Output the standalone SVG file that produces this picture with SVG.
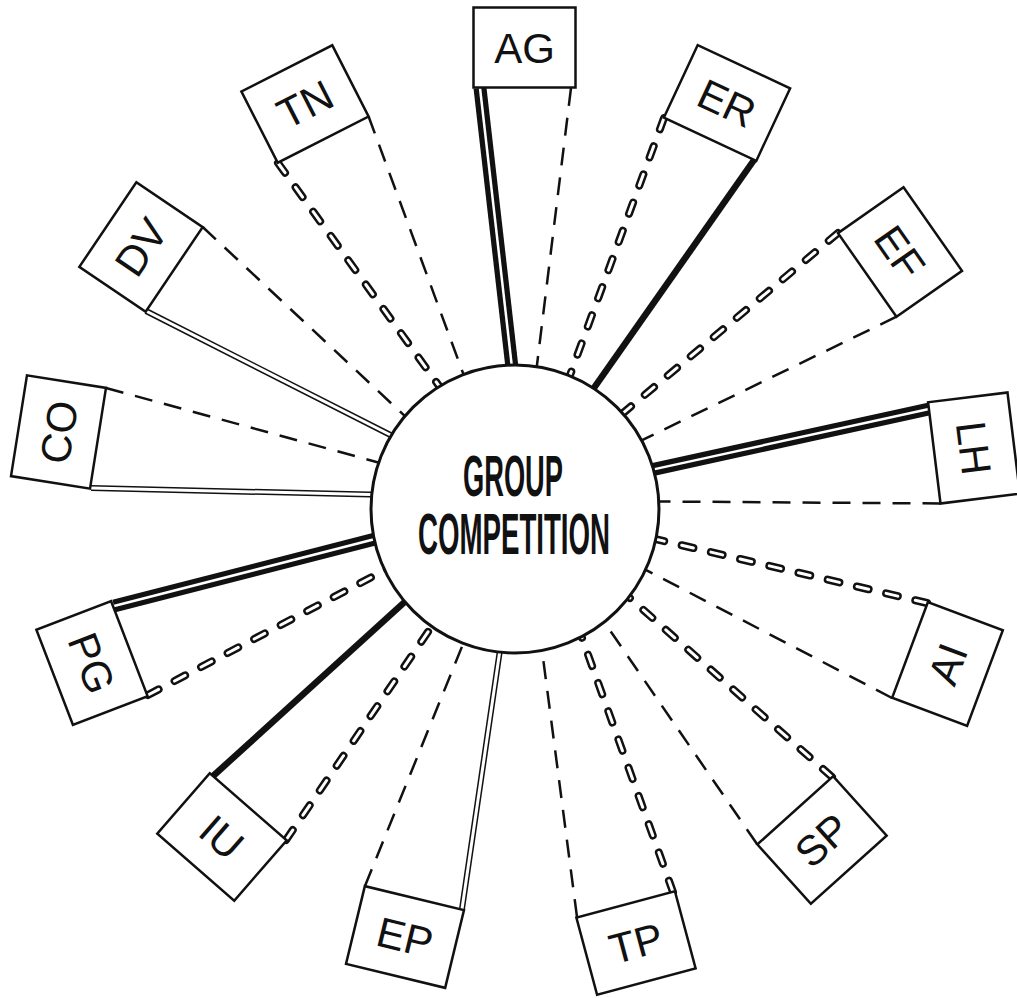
<svg xmlns="http://www.w3.org/2000/svg" width="1017" height="998" viewBox="0 0 1017 998">
  <style>
    .box rect { fill: #fff; stroke: #111; stroke-width: 2.5; }
    .box text { font-family: "Liberation Sans", Arial, sans-serif; font-size: 42px; text-anchor: middle; fill: #111; }
    .hub-text { font-family: "Liberation Sans", Arial, sans-serif; font-weight: bold; font-size: 57px; fill: #111; }
    path { fill: none; }
    .heavy-o { stroke: #111; stroke-width: 13; }
    .heavy-i { stroke: #fff; stroke-width: 2.5; }
    .thick { stroke: #111; stroke-width: 6.5; }
    .double-o { stroke: #111; stroke-width: 6; }
    .double-i { stroke: #fff; stroke-width: 3; }
    .chain-o { stroke: #111; stroke-width: 8; stroke-linecap: round; stroke-dasharray: 12 18; }
    .chain-i { stroke: #fff; stroke-width: 3; stroke-linecap: round; stroke-dasharray: 12 18; }
    .dash { stroke: #111; stroke-width: 2.5; stroke-dasharray: 18 12; }
  </style>
  <rect width="1017" height="998" fill="#fff"/>

  <g id="connectors">
    <!-- heavy banded lines -->
    <path class="heavy-o" d="M480,88 L512.6,373"/>
    <path class="heavy-i" d="M480,88 L512.6,373"/>
    <path class="heavy-o" d="M929,409 L645.6,471.1"/>
    <path class="heavy-i" d="M929,409 L645.6,471.1"/>
    <path class="heavy-o" d="M114,606 L382,537.3"/>
    <path class="heavy-i" d="M114,606 L382,537.3"/>

    <!-- thick solid lines -->
    <path class="thick" d="M754,160 L589.1,394.9"/>
    <path class="thick" d="M212,777 L410.8,596.4"/>

    <!-- double thin lines -->
    <path class="double-o" d="M91,488 L379.7,494.8"/>
    <path class="double-i" d="M91,488 L379.7,494.8"/>
    <path class="double-o" d="M146,311 L398.4,439"/>
    <path class="double-i" d="M146,311 L398.4,439"/>
    <path class="double-o" d="M462,909 L500.8,644.3"/>
    <path class="double-i" d="M462,909 L500.8,644.3"/>

    <!-- hollow chain dashes -->
    <g>
      <path class="chain-o" d="M664,118 L567,383.4"/>
      <path class="chain-i" d="M664,118 L567,383.4"/>
      <path class="chain-o" d="M838,233 L616.5,418.5"/>
      <path class="chain-i" d="M838,233 L616.5,418.5"/>
      <path class="chain-o" d="M927,603 L648,537.3"/>
      <path class="chain-i" d="M927,603 L648,537.3"/>
      <path class="chain-o" d="M832,777 L622.9,591.8"/>
      <path class="chain-i" d="M832,777 L622.9,591.8"/>
      <path class="chain-o" d="M673,892 L578.9,629.1"/>
      <path class="chain-i" d="M673,892 L578.9,629.1"/>
      <path class="chain-o" d="M286,840 L436.2,619.9"/>
      <path class="chain-i" d="M286,840 L436.2,619.9"/>
      <path class="chain-o" d="M148,695 L391.7,566.5"/>
      <path class="chain-i" d="M148,695 L391.7,566.5"/>
      <path class="chain-o" d="M278,163 L444.1,392.9"/>
      <path class="chain-i" d="M278,163 L444.1,392.9"/>
    </g>

    <!-- plain dashed lines -->
    <path class="dash" d="M571,88 L535.8,374.6"/>
    <path class="dash" d="M896.5,316.7 L634.4,443.9"/>
    <path class="dash" d="M940.5,503.5 L650.8,501.4"/>
    <path class="dash" d="M892,698 L638.5,566.1"/>
    <path class="dash" d="M757,844 L599.7,615.4"/>
    <path class="dash" d="M577,917 L541,642.5"/>
    <path class="dash" d="M365,886 L466.3,636"/>
    <path class="dash" d="M106,388 L386.4,464.7"/>
    <path class="dash" d="M202.7,227 L410.8,421.6"/>
    <path class="dash" d="M368.6,116.5 L466.3,382"/>
  </g>

  <g id="hub">
    <circle cx="515" cy="509" r="144" fill="#fff" stroke="#111" stroke-width="3"/>
    <text class="hub-text" x="463" y="496" textLength="100" lengthAdjust="spacingAndGlyphs">GROUP</text>
    <text class="hub-text" x="418" y="554" textLength="192" lengthAdjust="spacingAndGlyphs">COMPETITION</text>
  </g>

  <g id="node-AG" class="box" transform="translate(524.5,47.5)"><rect x="-51" y="-40" width="102" height="80"/><text y="15">AG</text></g>
  <g id="node-ER" class="box" transform="translate(727,103) rotate(25)"><rect x="-51" y="-40" width="102" height="80"/><text y="15">ER</text></g>
  <g id="node-EF" class="box" transform="translate(900,252) rotate(55)"><rect x="-51" y="-40" width="102" height="80"/><text y="15">EF</text></g>
  <g id="node-LH" class="box" transform="translate(974,448) rotate(83)"><rect x="-51" y="-40" width="102" height="80"/><text y="15">LH</text></g>
  <g id="node-AI" class="box" transform="translate(947.5,664) rotate(-69.5)"><rect x="-51" y="-40" width="102" height="80"/><text y="15">AI</text></g>
  <g id="node-SP" class="box" transform="translate(822,840) rotate(-42)"><rect x="-51" y="-40" width="102" height="80"/><text y="15">SP</text></g>
  <g id="node-TP" class="box" transform="translate(636,943) rotate(-15)"><rect x="-51" y="-40" width="102" height="80"/><text y="15">TP</text></g>
  <g id="node-EP" class="box" transform="translate(405,937) rotate(13.6)"><rect x="-51" y="-40" width="102" height="80"/><text y="15">EP</text></g>
  <g id="node-IU" class="box" transform="translate(222,837) rotate(41)"><rect x="-51" y="-40" width="102" height="80"/><text y="15">IU</text></g>
  <g id="node-PG" class="box" transform="translate(92,663) rotate(69)"><rect x="-51" y="-40" width="102" height="80"/><text y="15">PG</text></g>
  <g id="node-CO" class="box" transform="translate(58.5,432) rotate(-81)"><rect x="-51" y="-40" width="102" height="80"/><text y="15">CO</text></g>
  <g id="node-DV" class="box" transform="translate(141,247) rotate(-56)"><rect x="-51" y="-40" width="102" height="80"/><text y="15">DV</text></g>
  <g id="node-TN" class="box" transform="translate(305,104) rotate(-27)"><rect x="-51" y="-40" width="102" height="80"/><text y="15">TN</text></g>
</svg>
